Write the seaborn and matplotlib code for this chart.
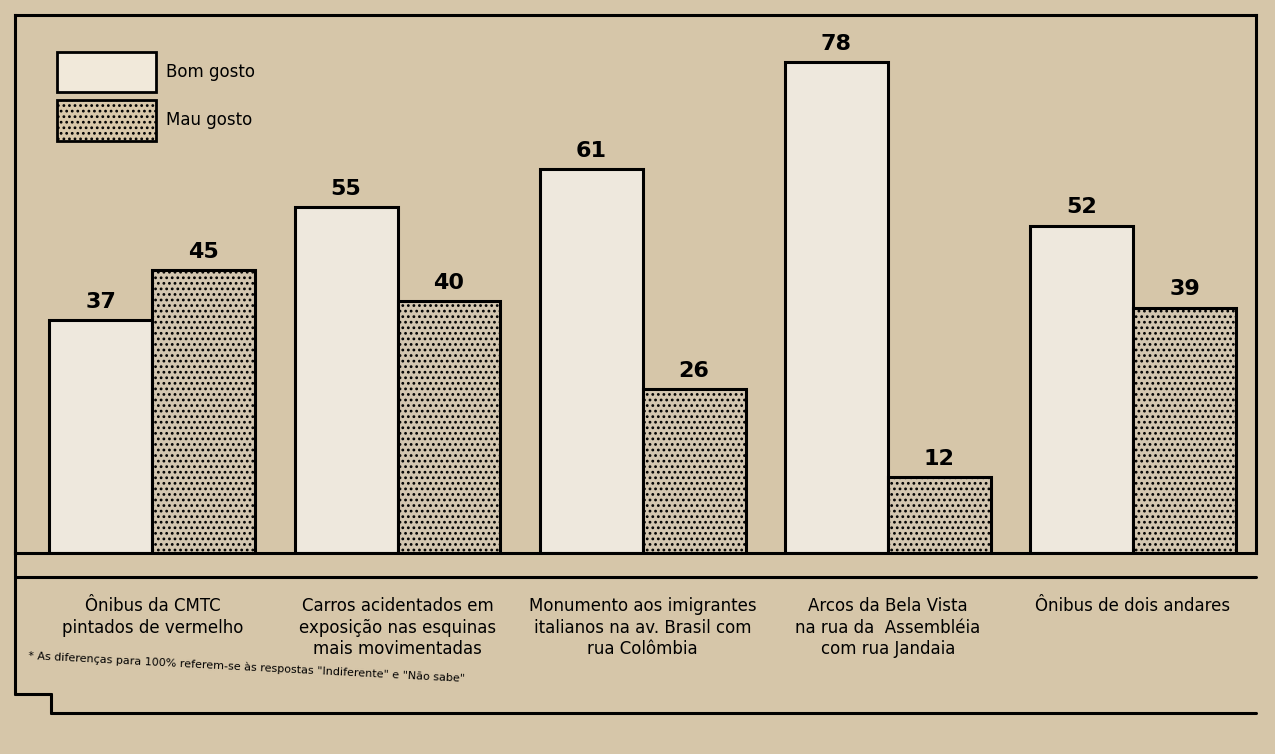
import pandas as pd
import numpy as np
import matplotlib
matplotlib.use("Agg")
import matplotlib.pyplot as plt
import seaborn as sns
from matplotlib.patches import Patch

# categories and values (percent)
categorias = [
    "Ônibus da CMTC\npintados de vermelho",
    "Carros acidentados em\nexposição nas esquinas\nmais movimentadas",
    "Monumento aos imigrantes\nitalianos na av. Brasil com\nrua Colômbia",
    "Arcos da Bela Vista\nna rua da  Assembléia\ncom rua Jandaia",
    "Ônibus de dois andares",
]
bom_gosto = [37, 55, 61, 78, 52]
mau_gosto = [45, 40, 26, 12, 39]
series = ["Bom gosto", "Mau gosto"]

df = pd.DataFrame({
    "categoria": categorias * 2,
    "serie": [series[0]] * 5 + [series[1]] * 5,
    "valor": bom_gosto + mau_gosto,
})

paper = "#d6c6a9"
fill_bom = "#f1e9da"
fill_mau = "#d9c8aa"

sns.set_style("white")
plt.rcParams["font.family"] = ["DejaVu Sans"]
plt.rcParams["text.color"] = "black"
plt.rcParams["xtick.color"] = "black"
plt.rcParams["hatch.linewidth"] = 1.2

fig = plt.figure(figsize=(12.75, 7.54), dpi=100, facecolor=paper)
ax = fig.add_axes([0.0118, 0.2666, 0.973, 0.7135])
ax.set_facecolor(paper)

sns.barplot(data=df, x="categoria", y="valor", hue="serie",
            palette=[fill_bom, fill_mau], width=0.84, gap=0,
            edgecolor="black", linewidth=2.2, ax=ax, legend=False)

# dotted fill for "Mau gosto"
for bar in ax.containers[1]:
    bar.set_hatch("...")

# value labels
for cont in ax.containers:
    ax.bar_label(cont, fmt="%d", padding=6, fontsize=16, fontweight="bold",
                 color="black")

ax.set_xlim(-0.56, 4.5)
ax.set_ylim(0, 85.5)
ax.set_yticks([])
ax.set_xlabel("")
ax.set_ylabel("")
ax.set_xticks(range(len(categorias)))
ax.set_xticklabels(categorias, fontsize=12, linespacing=1.25)
ax.tick_params(axis="x", length=0, pad=32)
for s in ax.spines.values():
    s.set_linewidth(2.2)
    s.set_color("black")

# legend
handles = [Patch(facecolor=fill_bom, edgecolor="black", linewidth=2),
           Patch(facecolor=fill_mau, edgecolor="black", linewidth=2, hatch="...")]
ax.legend(handles, series, loc="upper left", bbox_to_anchor=(0.022, 0.96),
          frameon=False, handlelength=5.9, handleheight=3.4, labelspacing=0.45,
          handletextpad=0.6, fontsize=12, labelcolor="black")

# lower band lines
fig.add_artist(plt.Line2D([0.0118, 0.985], [0.235, 0.235], color="black", lw=2.2))
fig.add_artist(plt.Line2D([0.04, 0.985], [0.055, 0.055], color="black", lw=2.2))
fig.add_artist(plt.Line2D([0.0118, 0.0118], [0.08, 0.27], color="black", lw=2.2))
fig.add_artist(plt.Line2D([0.04, 0.04], [0.055, 0.08], color="black", lw=2.2))
fig.add_artist(plt.Line2D([0.0118, 0.04], [0.08, 0.08], color="black", lw=2.2))

fig.text(0.022, 0.115,
         "* As diferenças para 100% referem-se às respostas \"Indiferente\" e \"Não sabe\"",
         fontsize=8, rotation=-3, ha="left", va="center")

fig.savefig("out.png", dpi=100, facecolor=paper)
